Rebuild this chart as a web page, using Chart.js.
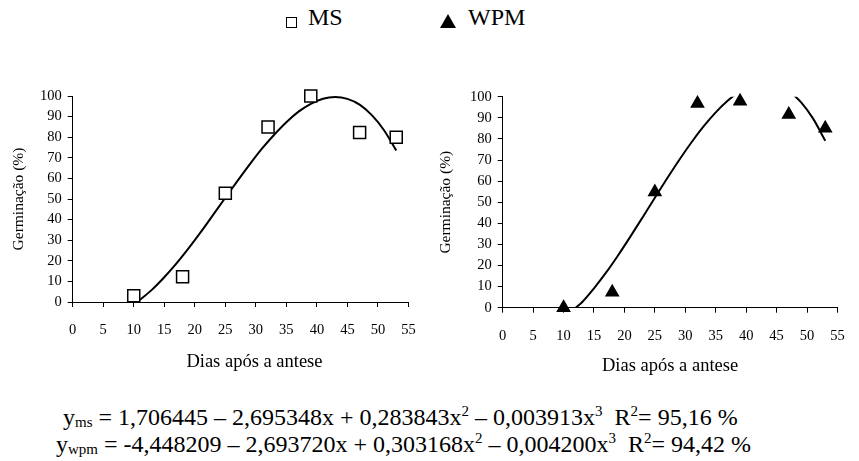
<!DOCTYPE html>
<html>
<head>
<meta charset="utf-8">
<script src="https://cdn.jsdelivr.net/npm/chart.js@4.4.1/dist/chart.umd.min.js"></script>
<style>
  body { margin: 0; background: #fff; font-family: "Liberation Serif", "Times New Roman", serif; }
  #page { position: relative; width: 859px; height: 461px; overflow: hidden; }
  .box { position: absolute; top: 80px; height: 300px; }
  .lg { position: absolute; top: 5px; font-size: 24px; line-height: 24px; white-space: nowrap; color: #000; }
  .sq { position: absolute; left: 286px; top: 17px; width: 9px; height: 9px; border: 1px solid #000; background: #fff; }
  .tri { position: absolute; left: 440px; top: 14px; width: 0; height: 0;
         border-left: 8px solid transparent; border-right: 8px solid transparent; border-bottom: 14px solid #000; }
  .eq { position: absolute; font-size: 24px; line-height: 24px; white-space: nowrap; color: #000; }
  .eq sub { font-size: 15px; vertical-align: -2px; line-height: 0; }
  .eq sup { font-size: 15px; vertical-align: 9px; line-height: 0; }
</style>
</head>
<body>
<div id="page">
  <div class="sq"></div>
  <div class="lg" style="left:308px;">MS</div>
  <div class="tri"></div>
  <div class="lg" style="left:468px;">WPM</div>
  <div class="box" style="left:0;width:430px;"><canvas id="chartMs" width="430" height="300"></canvas></div>
  <div class="box" style="left:430px;width:429px;"><canvas id="chartWpm" width="429" height="300"></canvas></div>
  <div class="eq" style="left:63px;top:405px;">y<sub>ms</sub> = 1,706445 – 2,695348x + 0,283843x<sup>2</sup> – 0,003913x<sup>3</sup>&nbsp; R<sup>2</sup>= 95,16 %</div>
  <div class="eq" style="left:56px;top:432px;">y<sub>wpm</sub> = -4,448209 – 2,693720x + 0,303168x<sup>2</sup> – 0,004200x<sup>3</sup>&nbsp; R<sup>2</sup>= 94,42 %</div>
</div>
<script>
// observed days after anthesis
const days = [10, 18, 25, 32, 39, 47, 53];

// germination (%)
const msGerm  = [3, 12.3, 52.8, 85, 100, 82.3, 80];
const wpmGerm = [0, 7.3, 54.8, 96.8, 97.8, 91.6, 85];

// fitted curves
const msCurveX = [10.8, 13, 15, 17, 19, 21, 23, 25, 27, 29, 31, 33, 35, 37, 39, 41, 43, 45, 47, 49, 51, 53];
const msCurveY = [0.5, 6, 12, 18.7, 26.1, 34, 42.3, 50.6, 58.8, 66.8, 74.4, 81.2, 87.3, 92.4, 96.2, 98.7, 99.5, 98.6, 95.8, 90.7, 83.4, 73.5];
const wpmCurveX = [12, 13, 15, 17, 19, 21, 23, 25, 27, 29, 31, 33, 35, 37, 39, 41, 43, 45, 47, 49, 51, 53];
const wpmCurveY = [0, 2.5, 9.2, 16.7, 25, 33.8, 42.9, 52.1, 61.2, 70, 78.3, 85.9, 92.6, 98.2, 102.5, 105.3, 106.4, 105.5, 102.6, 97.4, 89.6, 79.1];

// axis ticks
const xTicks = [0, 5, 10, 15, 20, 25, 30, 35, 40, 45, 50, 55];
const yTicks = [0, 10, 20, 30, 40, 50, 60, 70, 80, 90, 100];

const SERIF = "'Liberation Serif', 'Times New Roman', serif";

function pairs(xs, ys) {
    return xs.map((x, i) => ({ x: x, y: ys[i] }));
}

function makeChart(id, cfg) {
    return new Chart(document.getElementById(id), {
        type: "scatter",
        data: {
            datasets: [
                {
                    data: pairs(cfg.curveX, cfg.curveY),
                    showLine: true,
                    borderColor: "#000",
                    borderWidth: 2,
                    pointRadius: 0,
                    cubicInterpolationMode: "monotone",
                    clip: 0,
                    order: 2,
                },
                {
                    data: pairs(days, cfg.values),
                    showLine: false,
                    pointStyle: cfg.pointStyle,
                    pointRadius: cfg.pointRadius,
                    pointBackgroundColor: cfg.fill,
                    pointBorderColor: "#000",
                    pointBorderWidth: 1.5,
                    clip: false,
                    order: 1,
                },
            ],
        },
        options: {
            responsive: false,
            animation: false,
            devicePixelRatio: 1,
            layout: { padding: { top: cfg.padTop, right: cfg.padRight, left: 0, bottom: 0 } },
            plugins: { legend: { display: false }, tooltip: { enabled: false } },
            scales: {
                x: {
                    type: "linear",
                    min: 0,
                    max: 55,
                    afterBuildTicks: (s) => { s.ticks = xTicks.map(v => ({ value: v })); },
                    afterFit: (s) => { s.height = cfg.xHeight; },
                    border: { display: true, color: "#000", width: 1 },
                    grid: { drawOnChartArea: false, drawTicks: true, tickLength: 5, color: "#000" },
                    ticks: { color: "#000", padding: 14.3, maxRotation: 0, font: { family: SERIF, size: 14.5 } },
                    title: {
                        display: true,
                        text: cfg.xTitle,
                        color: "#000",
                        font: { family: SERIF, size: 18.5 },
                        padding: { top: 0, bottom: cfg.xTitlePad },
                    },
                },
                y: {
                    type: "linear",
                    min: 0,
                    max: 100,
                    afterBuildTicks: (s) => { s.ticks = yTicks.map(v => ({ value: v })); },
                    afterFit: (s) => { s.width = cfg.yWidth; },
                    border: { display: true, color: "#000", width: 1 },
                    grid: { drawOnChartArea: false, drawTicks: true, tickLength: 5, color: "#000" },
                    ticks: { color: "#000", padding: 6, font: { family: SERIF, size: 14.5 } },
                    title: {
                        display: true,
                        text: "Germinação (%)",
                        color: "#000",
                        font: { family: SERIF, size: 15.5 },
                        padding: { top: cfg.yTitlePad, bottom: 0 },
                    },
                },
            },
        },
    });
}

function drawAll() {
    Chart.defaults.font.family = SERIF;

    // the left title sits a little right of the axis centre in the original
    makeChart("chartMs", {
        values: msGerm, curveX: msCurveX, curveY: msCurveY,
        pointStyle: "rect", pointRadius: 8.5, fill: "#fff",
        padTop: 16, padRight: 14.5, xHeight: 78, yWidth: 72.7,
        xTitle: "      Dias após a antese", xTitlePad: 6.9, yTitlePad: 10,
    });

    makeChart("chartWpm", {
        values: wpmGerm, curveX: wpmCurveX, curveY: wpmCurveY,
        pointStyle: "triangle", pointRadius: 7, fill: "#000",
        padTop: 16.7, padRight: 12.3, xHeight: 72.3, yWidth: 72.7,
        xTitle: "Dias após a antese", xTitlePad: 2.9, yTitlePad: 7,
    });
}

Promise.all([
    document.fonts.load("14.5px 'Liberation Serif'"),
    document.fonts.load("18.5px 'Liberation Serif'"),
]).then(drawAll, drawAll);
</script>
</body>
</html>
